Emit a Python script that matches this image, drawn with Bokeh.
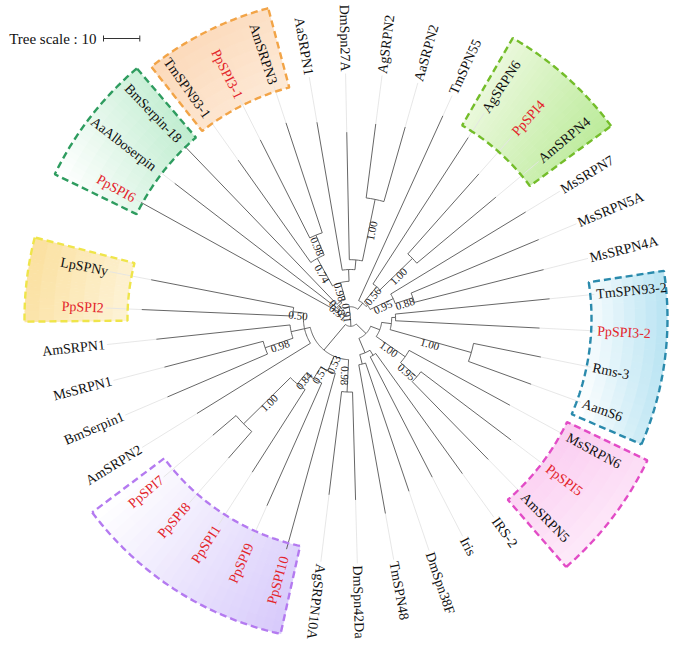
import math
import numpy as np
from bokeh.plotting import figure
from bokeh.models import ColumnDataSource, Label
from bokeh.core.properties import value
from bokeh.embed import file_html
from bokeh.resources import INLINE

# ---------------- data ----------------
# Tree topology, bootstrap support (internal node names) and branch lengths (tree units)
tree_newick = (
    "(("
    "(PpSPI6:61.89,(AaAlboserpin:56.22,(BmSerpin-18:60.54,((TmSPN93-1:34.59,(PpSPI3-1:30.27,AmSRPN3:31.89)0.98:5.95)0.74:8.65,"
    "(AaSRPN1:41.35,(DmSpn27A:35.14,(AgSRPN2:20.54,AaSRPN2:21.35)1.00:17.30):2.70):3.24)0.98:4.86):0.54)0.52:0.81)0.91:0.81,"
    "(TmSPN55:55.95,((AgSRPN6:48.11,(PpSPI4:29.46,AmSRPN4:28.38)1.00:12.43)0.56:5.41,"
    "(MsSRPN7:43.51,(MsSRPN5A:38.11,MsSRPN4A:36.76)0.88:5.14)0.95:7.03):0.54):2.16"
    ")0.91:3.24,"
    "("
    "((((TmSPN93-2:42.70,PpSPI3-2:39.73):1.08,(Rms-3:18.92,AamS6:18.38)1.00:23.24):2.70,"
    "(MsSRPN6:31.62,(PpSPI5:31.08,AmSRPN5:30.00)0.95:5.95)1.00:9.73):2.70,"
    "((IRS-2:40.81,Iris:37.30):1.62,(DmSpn38F:37.30,TmSPN48:41.62):2.70):4.32):3.78,"
    "((DmSpn42Da:29.73,AgSRPN10A:28.65)0.98:8.92,"
    "(PpSPI10:50.27,(PpSPI9:37.03,(PpSPI1:27.03,(PpSPI8:9.73,PpSPI7:8.38)1.00:18.11)0.84:3.78)0.51:3.78)0.53:4.32,"
    "(AmSRPN2:36.76,((BmSerpin1:30.00,MsSRPN1:28.11)0.98:8.11,AmSRPN1:37.03):3.78,(PpSPI2:41.62,LpSPNy:40.00)0.50:2.97):1.62):9.19"
    "):2.16);"
)
highlight_prefix = "PpSPI"
clade_first = ["TmSPN93-1", "PpSPI6", "PpSPI2", "AgSRPN6", "TmSPN93-2", "MsSRPN6", "PpSPI10"]
clade_last = ["AmSRPN3", "BmSerpin-18", "LpSPNy", "AmSRPN4", "AamS6", "AmSRPN5", "PpSPI7"]
tree_scale_units = 10

# ---------------- styles / layout ----------------
SCALE = 3.63         # px per tree unit
A_START = 151.0      # angle of first leaf (deg)
ARC = 342.0          # angular span of leaves
R_LABEL = 247.0
CX, CY = 350.0, 318.0
W, H = 669, 640
LINE_COL = "#555555"
FONT = "Liberation Serif"

clade_style = [
    # inner, outer, border, c0, c1, gradient dir (deg)
    (239, 321, "#f2a447", "#fde9d6", "#fcdabb", 135),
    (238, 329, "#2e9c5f", "#ffffff", "#c0edd0", 20),
    (223, 326, "#efe54a", "#fbe1a2", "#fdf2d4", -20),
    (223, 324, "#74bd2a", "#e9f8da", "#bdeb9c", -30),
    (241, 317, "#2a8aac", "#ffffff", "#bce5f3", 0),
    (240, 329, "#e24cc6", "#fbcdf1", "#fde9f9", -60),
    (233, 323, "#b47af0", "#ffffff", "#d8cbfb", -40),
]


def parse_newick(s):
    s = s.replace(" ", "").rstrip(";")
    pos = 0

    def node():
        nonlocal pos
        n = {"children": [], "name": "", "bl": 0.0}
        if s[pos] == "(":
            pos += 1
            while True:
                n["children"].append(node())
                if s[pos] == ",":
                    pos += 1
                    continue
                if s[pos] == ")":
                    pos += 1
                    break
        st = pos
        while pos < len(s) and s[pos] not in ":,()":
            pos += 1
        n["name"] = s[st:pos]
        if pos < len(s) and s[pos] == ":":
            pos += 1
            st = pos
            while pos < len(s) and s[pos] not in ",()":
                pos += 1
            n["bl"] = float(s[st:pos])
        return n

    return node()


root = parse_newick(tree_newick)
leaves = []


def collect(n):
    if not n["children"]:
        leaves.append(n)
    for c in n["children"]:
        collect(c)


collect(root)
STEP = ARC / (len(leaves) - 1)
for k, lf in enumerate(leaves):
    lf["a"] = A_START - k * STEP


def layout(n, depth):
    n["r"] = depth * SCALE
    for c in n["children"]:
        c["parent_r"] = n["r"]
        layout(c, depth + c["bl"])
    if n["children"]:
        n["a"] = (n["children"][0]["a"] + n["children"][-1]["a"]) / 2.0


layout(root, root["bl"])


def pol(r, a):
    t = math.radians(a)
    return r * math.cos(t), r * math.sin(t)


def flipped(a):
    a = a % 360
    return 90 < a < 258


p = figure(width=W, height=H, x_range=(-CX, W - CX), y_range=(CY - H, CY),
           output_backend="svg", toolbar_location=None, min_border=0)
p.axis.visible = False
p.grid.visible = False
p.outline_line_color = None
p.background_fill_color = "white"


def hex2rgb(h):
    h = h.lstrip("#")
    return [int(h[i:i + 2], 16) for i in (0, 2, 4)]


def mix(c0, c1, t):
    a, b = hex2rgb(c0), hex2rgb(c1)
    return "#%02x%02x%02x" % tuple(int(round(a[i] + (b[i] - a[i]) * t)) for i in range(3))


leaf_by_name = {lf["name"]: lf for lf in leaves}
box_outlines = []
for (fn, ln), st in zip(zip(clade_first, clade_last), clade_style):
    ri, ro, bc, c0, c1, gd = st
    angs = [leaf_by_name[fn]["a"], leaf_by_name[ln]["a"]]
    a0, a1 = min(angs) - 3.4, max(angs) + 3.0
    na, nr = 24, 7
    ae = np.linspace(a0, a1, na + 1)
    re = np.linspace(ri, ro, nr + 1)
    cells = []
    for i in range(na):
        for j in range(nr):
            am = (ae[i] + ae[i + 1]) / 2
            rm = (re[j] + re[j + 1]) / 2
            x, y = pol(rm, am)
            t = x * math.cos(math.radians(gd)) + y * math.sin(math.radians(gd))
            cells.append((ae[i], ae[i + 1], re[j], re[j + 1], t))
    ts = [c[4] for c in cells]
    tmin, tmax = min(ts), max(ts)
    src = dict(sa=[], ea=[], ir=[], orr=[], col=[])
    for c in cells:
        tt = (c[4] - tmin) / (tmax - tmin + 1e-9)
        src["sa"].append(math.radians(c[0]))
        src["ea"].append(math.radians(c[1]) + 0.002)
        src["ir"].append(c[2])
        src["orr"].append(min(c[3] + 0.6, ro))
        src["col"].append(mix(c0, c1, tt))
    p.annular_wedge(x=0, y=0, inner_radius="ir", outer_radius="orr", start_angle="sa", end_angle="ea",
                    fill_color="col", line_color=None, source=ColumnDataSource(src))
    aa = np.linspace(a0, a1, 60)
    xs = [pol(ro, a)[0] for a in aa] + [pol(ri, a)[0] for a in aa[::-1]]
    ys = [pol(ro, a)[1] for a in aa] + [pol(ri, a)[1] for a in aa[::-1]]
    xs.append(xs[0]); ys.append(ys[0])
    box_outlines.append((xs, ys, bc))

# faint connectors from tips to labels
cx_, cy_ = [], []
for lf in leaves:
    x0, y0 = pol(lf["r"], lf["a"])
    x1, y1 = pol(R_LABEL - 2, lf["a"])
    cx_.append([x0, x1]); cy_.append([y0, y1])
p.multi_line(cx_, cy_, line_color="#e4e4e4", line_width=0.9)

# tree branches
bx, by = [], []
boot = dict(x=[], y=[], t=[], ang=[])


def draw(n):
    if "parent_r" in n:
        x0, y0 = pol(n["parent_r"], n["a"])
        x1, y1 = pol(n["r"], n["a"])
        bx.append([x0, x1]); by.append([y0, y1])
        if n["children"] and n["name"]:
            rm = (n["parent_r"] + n["r"]) / 2
            x, y = pol(rm, n["a"])
            rot = n["a"] - 180 if flipped(n["a"]) else n["a"]
            boot["x"].append(x); boot["y"].append(y); boot["t"].append(n["name"])
            boot["ang"].append(math.radians(rot))
    if n["children"]:
        c0, c1 = n["children"][0]["a"], n["children"][-1]["a"]
        if n["r"] > 0.5:
            aa = np.linspace(c0, c1, max(3, int(abs(c0 - c1) / 1.5)))
            bx.append([pol(n["r"], a)[0] for a in aa]); by.append([pol(n["r"], a)[1] for a in aa])
        for c in n["children"]:
            draw(c)


draw(root)
p.multi_line(bx, by, line_color=LINE_COL, line_width=0.9)

for xs, ys, bc in box_outlines:
    p.line(xs, ys, line_color=bc, line_width=2.4, line_dash="7 4")

p.text(x="x", y="y", text="t", angle="ang", source=ColumnDataSource(boot),
       text_font=value(FONT), text_font_size="11px", text_align="center", text_baseline="top", text_color="#222222")

lab = dict(x=[], y=[], t=[], ang=[], align=[], col=[])
for lf in leaves:
    x, y = pol(R_LABEL, lf["a"])
    f = flipped(lf["a"])
    lab["x"].append(x); lab["y"].append(y); lab["t"].append(lf["name"])
    lab["ang"].append(math.radians(lf["a"] - 180 if f else lf["a"]))
    lab["align"].append("right" if f else "left")
    lab["col"].append("#e3242b" if lf["name"].startswith(highlight_prefix) else "#111111")
p.text(x="x", y="y", text="t", angle="ang", text_align="align", text_color="col", source=ColumnDataSource(lab),
       text_font=value(FONT), text_font_size="14px", text_baseline="middle")

# tree scale
sy = CY - 38
sx0 = 103 - CX
sx1 = sx0 + tree_scale_units * SCALE
p.multi_line([[sx0, sx1], [sx0, sx0], [sx1, sx1]], [[sy, sy], [sy - 3, sy + 3], [sy - 3, sy + 3]],
             line_color="#333333", line_width=1)
p.add_layout(Label(x=sx0 - 7, y=sy, text="Tree scale : %d" % tree_scale_units, text_align="right",
                   text_baseline="middle", text_font=FONT, text_font_size="15px", text_color="#111111"))

open("out.html", "w").write(file_html(p, INLINE))
